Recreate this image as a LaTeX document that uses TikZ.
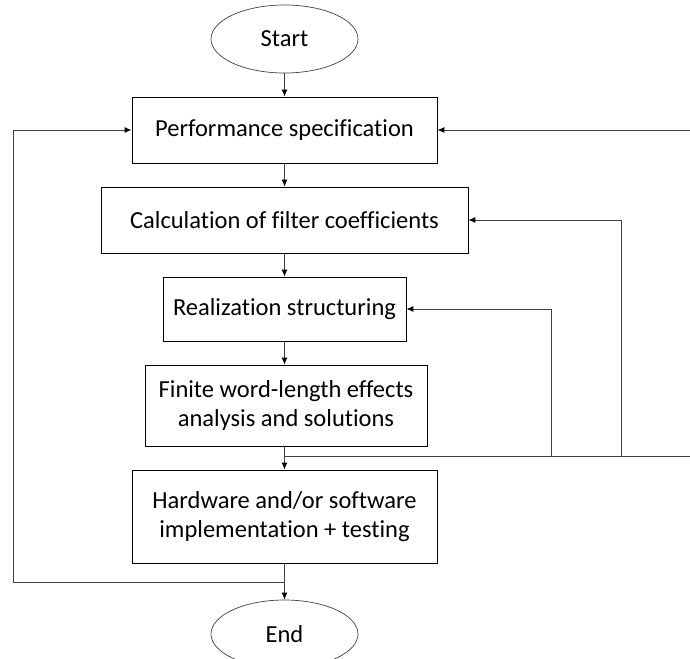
\documentclass[tikz,border=0pt]{standalone}
\usepackage{fontspec}
\setmainfont{Carlito}[Ligatures=CommonOff]
\usetikzlibrary{shapes.geometric,arrows.meta}
\begin{document}
\begin{tikzpicture}[x=1pt,y=-1pt,
  box/.style={draw=black,line width=0.8pt,rectangle,align=center,font=\fontsize{24.5}{29}\selectfont,inner sep=0pt},
  term/.style={draw=black!75,line width=0.7pt,ellipse,font=\fontsize{24.5}{29}\selectfont,inner sep=0pt,minimum width=147pt,minimum height=68pt},
  conn/.style={draw=black!75,line width=0.9pt},
  arr/.style={conn,-{Latex[length=7pt,width=6pt,color=black]}}]
\useasboundingbox (0,0) rectangle (690,658);
\node[term] (start) at (284.5,39) {Start};
\node[box,minimum width=305pt,minimum height=66pt] (perf) at (284.5,130) {Performance specification};
\node[box,minimum width=367pt,minimum height=66pt] (calc) at (284.5,220) {Calculation of filter coefficients};
\node[box,minimum width=243pt,minimum height=64pt] (real) at (284.5,309) {Realization structuring};
\node[box,minimum width=282pt,minimum height=81pt] (fin) at (286,405.5) {Finite word-length effects\\analysis and solutions};
\node[box,minimum width=305pt,minimum height=93pt] (hw) at (284.5,516.5) {Hardware and/or software\\implementation + testing};
\node[term] (end) at (284.5,634) {End};
\coordinate (j) at (284.5,456);
\coordinate (jr) at (692,456);
\coordinate (a1) at (551,456);
\coordinate (a2) at (621,456);
\coordinate (k) at (284.5,582);
\coordinate (kl) at (13,582);
\draw[arr] (start.south) -- (perf.north);
\draw[arr] (perf.south) -- (calc.north);
\draw[arr] (calc.south) -- (real.north);
\draw[arr] (real.south) -- (real.south |- fin.north);
\draw[arr] (j |- fin.south) -- (j |- hw.north);
\draw[arr] (hw.south) -- (end.north);
\draw[conn] (j) -- (jr);
\draw[arr] (a1) |- (real.east);
\draw[arr] (a2) |- (calc.east);
\draw[arr] (jr) |- (perf.east);
\draw[arr] (k) -| (kl) |- (perf.west);
\end{tikzpicture}
\end{document}
